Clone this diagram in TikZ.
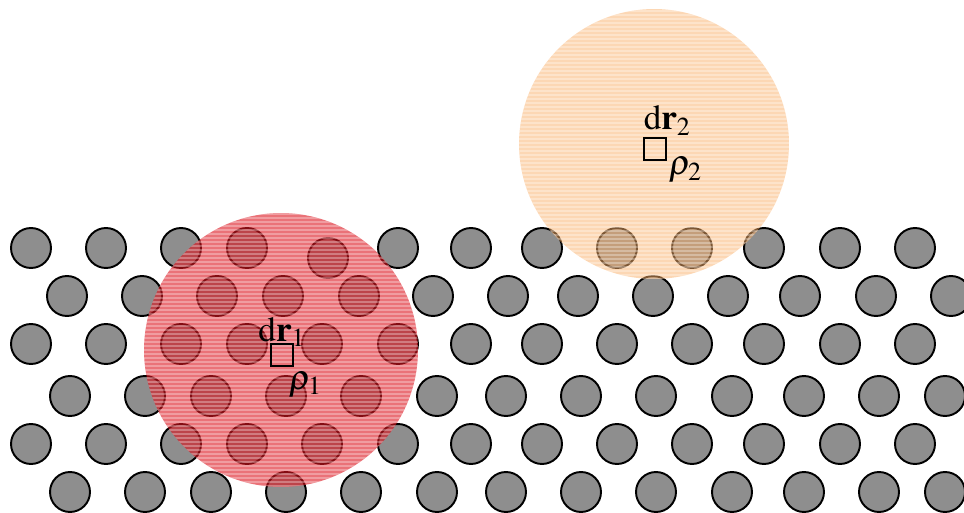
\documentclass[tikz,border=0pt]{standalone}
\usepackage{mathptmx}
\usetikzlibrary{positioning}

\definecolor{atomgray}{RGB}{142,142,142}
\definecolor{blobred}{RGB}{220,20,30}
\definecolor{bloborange}{RGB}{250,175,105}

\tikzset{
  atom/.style={draw=black, fill=atomgray, line width=1.1pt},
  cellbox/.style={draw=black, line width=0.8pt, minimum size=0.44cm, inner sep=0pt},
  lbl/.style={font=\fontsize{20}{24}\selectfont, inner sep=1pt},
  stripe/.style={white, line width=0.7pt, opacity=0.3},
}

\begin{document}
\begin{tikzpicture}[x=0.02cm, y=-0.02cm]
  \useasboundingbox (0,0) rectangle (964,513);

  % Draw atoms of the lattice (rows from top)
  \foreach \x in {31,106,181,247,398,471,542,617,692,764,840,915}
    \draw[atom] (\x,248) circle (0.4cm);
  \draw[atom] (328,258) circle (0.4cm);
  \foreach \x in {67,142,217,283,359,433,508,578,653,728,800,876,951}
    \draw[atom] (\x,296) circle (0.4cm);
  \foreach \y in {344,444}
    \foreach \x in {31,106,181,247,322,398,471,542,617,692,764,840,915}
      \draw[atom] (\x,\y) circle (0.4cm);
  \foreach \y in {396,492}
    \foreach \x in {70,145,211,286,361,437,506,581,656,732,804,879,945}
      \draw[atom] (\x,\y) circle (0.4cm);

  % Draw density blobs
  \fill[blobred, opacity=0.6] (281,350) circle (2.74cm);
  \begin{scope}
    \clip (281,350) circle (2.74cm);
    \foreach \y in {214,218,...,488}
      \draw[stripe] (140,\y) -- (420,\y);
  \end{scope}
  \fill[bloborange, opacity=0.5] (654,144) circle (2.7cm);
  \begin{scope}
    \clip (654,144) circle (2.7cm);
    \foreach \y in {11,15,...,279}
      \draw[stripe] (515,\y) -- (795,\y);
  \end{scope}

  % Volume elements and labels
  \node[cellbox] (cell1) at (282,355) {};
  \node[lbl, above=-3pt of cell1] (dr1) {$\mathrm{d}\mathbf{r}_1$};
  \node[lbl, below right=2pt and -4pt of cell1] (rho1) {$\rho_1$};

  \node[cellbox] (cell2) at (655,149) {};
  \node[lbl, above=0pt of cell2, xshift=7pt] (dr2) {$\mathrm{d}\mathbf{r}_2$};
  \node[lbl, below right=-3pt and 0pt of cell2] (rho2) {$\rho_2$};
\end{tikzpicture}
\end{document}
